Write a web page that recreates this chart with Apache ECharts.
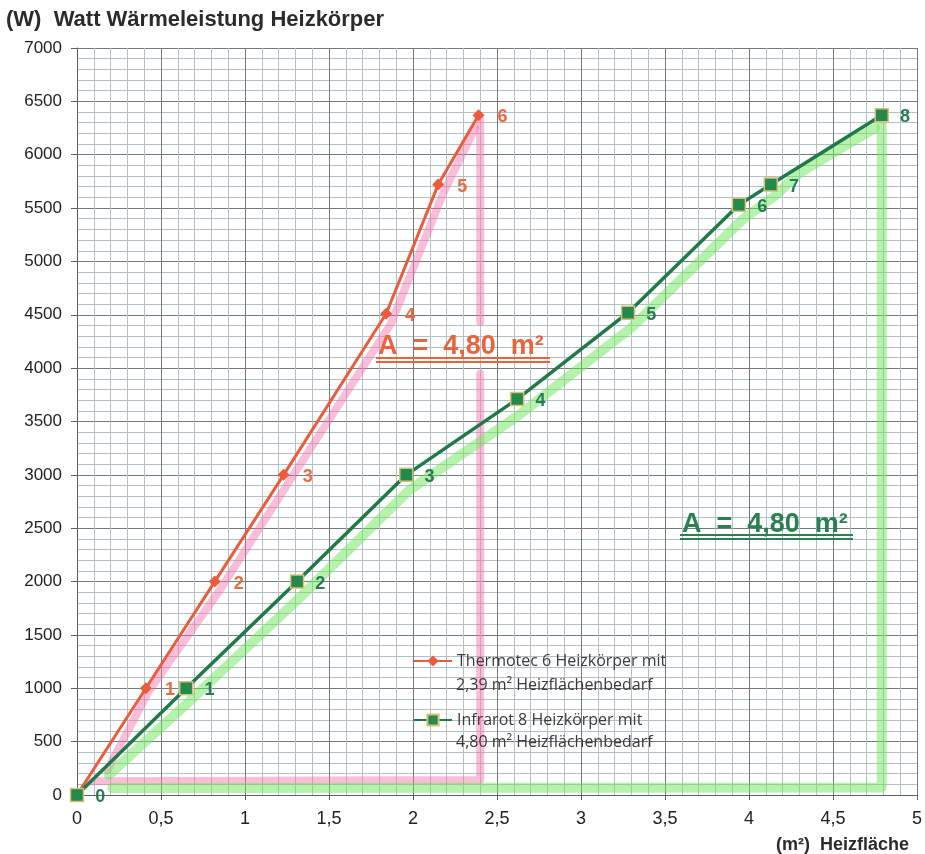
<!DOCTYPE html>
<html><head><meta charset="utf-8">
<script src="https://cdn.jsdelivr.net/npm/echarts@6/dist/echarts.min.js"></script>
<style>html,body{margin:0;padding:0;background:#fff}#c{width:925px;height:854px}</style>
</head><body><div id="c"></div>
<script>
// ---- data ----
const thermoX = [0, 0.41, 0.82, 1.23, 1.84, 2.15, 2.39];
const thermoY = [0, 1000, 2000, 3000, 4510, 5720, 6370];
const thermoLabels = ['', '1', '2', '3', '4', '5', '6'];
const infraX = [0, 0.65, 1.31, 1.96, 2.62, 3.28, 3.94, 4.13, 4.79];
const infraY = [0, 1000, 2000, 3000, 3710, 4520, 5530, 5720, 6370];
const infraLabels = ['0', '1', '2', '3', '4', '5', '6', '7', '8'];
const xTickLabels = ['0', '0,5', '1', '1,5', '2', '2,5', '3', '3,5', '4', '4,5', '5'];
const legendLine1 = ['Thermotec 6 Heizkörper mit', 'Infrarot 8 Heizkörper mit'];
const legendLine2 = ['2,39 m² Heizflächenbedarf', '4,80 m² Heizflächenbedarf'];
// hand-drawn highlighter strokes (x, y in data units)
const pinkMarks = [
  [[0.18,230],[0.43,980],[0.85,1920],[1.26,2930],[1.87,4420],[2.18,5640],[2.37,6250]],
  [[2.40,6330],[2.40,4430]],
  [[2.40,3950],[2.40,140],[0.08,130]]
];
const greenMarks = [
  [[0.19,190],[0.67,880],[1.32,1840],[1.98,2860],[2.63,3560],[3.30,4380],[3.96,5390],[4.15,5610],[4.30,5830],[4.75,6250]],
  [[4.79,6300],[4.79,70],[0.21,65]]
];

const RED = '#ec5b3b', GREEN = '#1f7a47';
const chart = echarts.init(document.getElementById('c'));

const markSeries = [];
pinkMarks.forEach(seg => markSeries.push({
  type: 'line', data: seg, symbol: 'none', silent: true, z: 1,
  lineStyle: {color: 'rgba(245,110,170,0.45)', width: 8, cap: 'round', join: 'round'}
}));
greenMarks.forEach(seg => markSeries.push({
  type: 'line', data: seg, symbol: 'none', silent: true, z: 1,
  lineStyle: {color: 'rgba(110,230,90,0.5)', width: 10, cap: 'round', join: 'round'}
}));

const option = {
  animation: false,
  backgroundColor: '#fff',
  title: {
    text: '(W)  Watt Wärmeleistung Heizkörper', left: 6, top: 9, padding: 0,
    textStyle: {fontFamily: 'Liberation Sans', fontSize: 22, fontWeight: 'bold', color: '#2b2b2b'}
  },
  grid: {left: 77, right: 5, top: 48, bottom: 58, containLabel: false},
  legend: {
    data: legendLine1, orient: 'vertical', left: 413, top: 653, padding: 0,
    itemWidth: 38, itemHeight: 14, itemGap: 43,
    textStyle: {fontFamily: 'Open Sans', fontSize: 16, color: '#3a3a3a'}
  },
  xAxis: {
    type: 'value', min: 0, max: 5, interval: 0.5,
    name: '(m²)  Heizfläche', nameLocation: 'end', nameGap: 0,
    nameTextStyle: {fontFamily: 'Liberation Sans', fontSize: 18, fontWeight: 'bold', color: '#2b2b2b',
      align: 'right', verticalAlign: 'top', padding: [41, 8, 0, 0]},
    axisLine: {show: true, lineStyle: {color: '#5a6064', width: 1}},
    axisTick: {show: true, length: 5, lineStyle: {color: '#5a6064'}},
    axisLabel: {fontFamily: 'Liberation Sans', fontSize: 18, color: '#222', margin: 15,
      formatter: v => xTickLabels[Math.round(v / 0.5)]},
    splitLine: {show: true, lineStyle: {color: '#737b80', width: 1}},
    minorTick: {show: true, splitNumber: 5, length: 0},
    minorSplitLine: {show: true, lineStyle: {color: '#b4c0c9', width: 1}}
  },
  yAxis: {
    type: 'value', min: 0, max: 7000, interval: 500,
    axisLine: {show: true, lineStyle: {color: '#5a6064', width: 1}},
    axisTick: {show: true, length: 6, lineStyle: {color: '#5a6064'}},
    axisLabel: {fontFamily: 'Liberation Sans', fontSize: 17, color: '#222', margin: 15,
      formatter: v => String(v)},
    splitLine: {show: true, lineStyle: {color: '#737b80', width: 1}},
    minorTick: {show: true, splitNumber: 5, length: 0},
    minorSplitLine: {show: true, lineStyle: {color: '#b4c0c9', width: 1}}
  },
  series: markSeries.concat([
    {
      name: legendLine1[0], type: 'line', z: 3,
      data: thermoX.map((x, i) => ({value: [x, thermoY[i]], label: {formatter: thermoLabels[i]}})),
      symbol: 'diamond', symbolSize: 12, showAllSymbol: true,
      itemStyle: {color: RED},
      lineStyle: {color: RED, width: 3},
      label: {show: true, position: 'right', distance: 13, offset: [0, 2],
        fontFamily: 'Liberation Sans', fontSize: 18, fontWeight: 'bold', color: '#ec6a40'}
    },
    {
      name: legendLine1[1], type: 'line', z: 4,
      data: infraX.map((x, i) => ({value: [x, infraY[i]], label: {formatter: infraLabels[i]}})),
      symbol: 'rect', symbolSize: 13, showAllSymbol: true,
      itemStyle: {color: '#248a4c', borderColor: '#d8c07a', borderWidth: 1.5},
      lineStyle: {color: GREEN, width: 3.5},
      label: {show: true, position: 'right', distance: 11, offset: [0, 2],
        fontFamily: 'Liberation Sans', fontSize: 18, fontWeight: 'bold', color: '#2a7a55'}
    }
  ]),
  graphic: [
    {type: 'text', left: 456, top: 677, z: 10,
      style: {text: legendLine2[0], font: '16px "Open Sans"', fill: '#3a3a3a'}},
    {type: 'text', left: 456, top: 734, z: 10,
      style: {text: legendLine2[1], font: '16px "Open Sans"', fill: '#3a3a3a'}},
    {type: 'text', left: 378, top: 333, z: 10,
      style: {text: 'A  =  4,80  m²', font: 'bold 27px "Liberation Sans"', fill: '#e8643c'}},
    {type: 'line', z: 10, shape: {x1: 376, y1: 358, x2: 550, y2: 358}, style: {stroke: '#e8643c', lineWidth: 2}},
    {type: 'line', z: 10, shape: {x1: 376, y1: 362, x2: 550, y2: 362}, style: {stroke: '#e8643c', lineWidth: 2}},
    {type: 'text', left: 682, top: 511, z: 10,
      style: {text: 'A  =  4,80  m²', font: 'bold 27px "Liberation Sans"', fill: '#2a8050'}},
    {type: 'line', z: 10, shape: {x1: 680, y1: 535, x2: 853, y2: 535}, style: {stroke: '#2a8050', lineWidth: 2}},
    {type: 'line', z: 10, shape: {x1: 680, y1: 539, x2: 853, y2: 539}, style: {stroke: '#2a8050', lineWidth: 2}}
  ]
};
chart.setOption(option);
</script>
</body></html>
